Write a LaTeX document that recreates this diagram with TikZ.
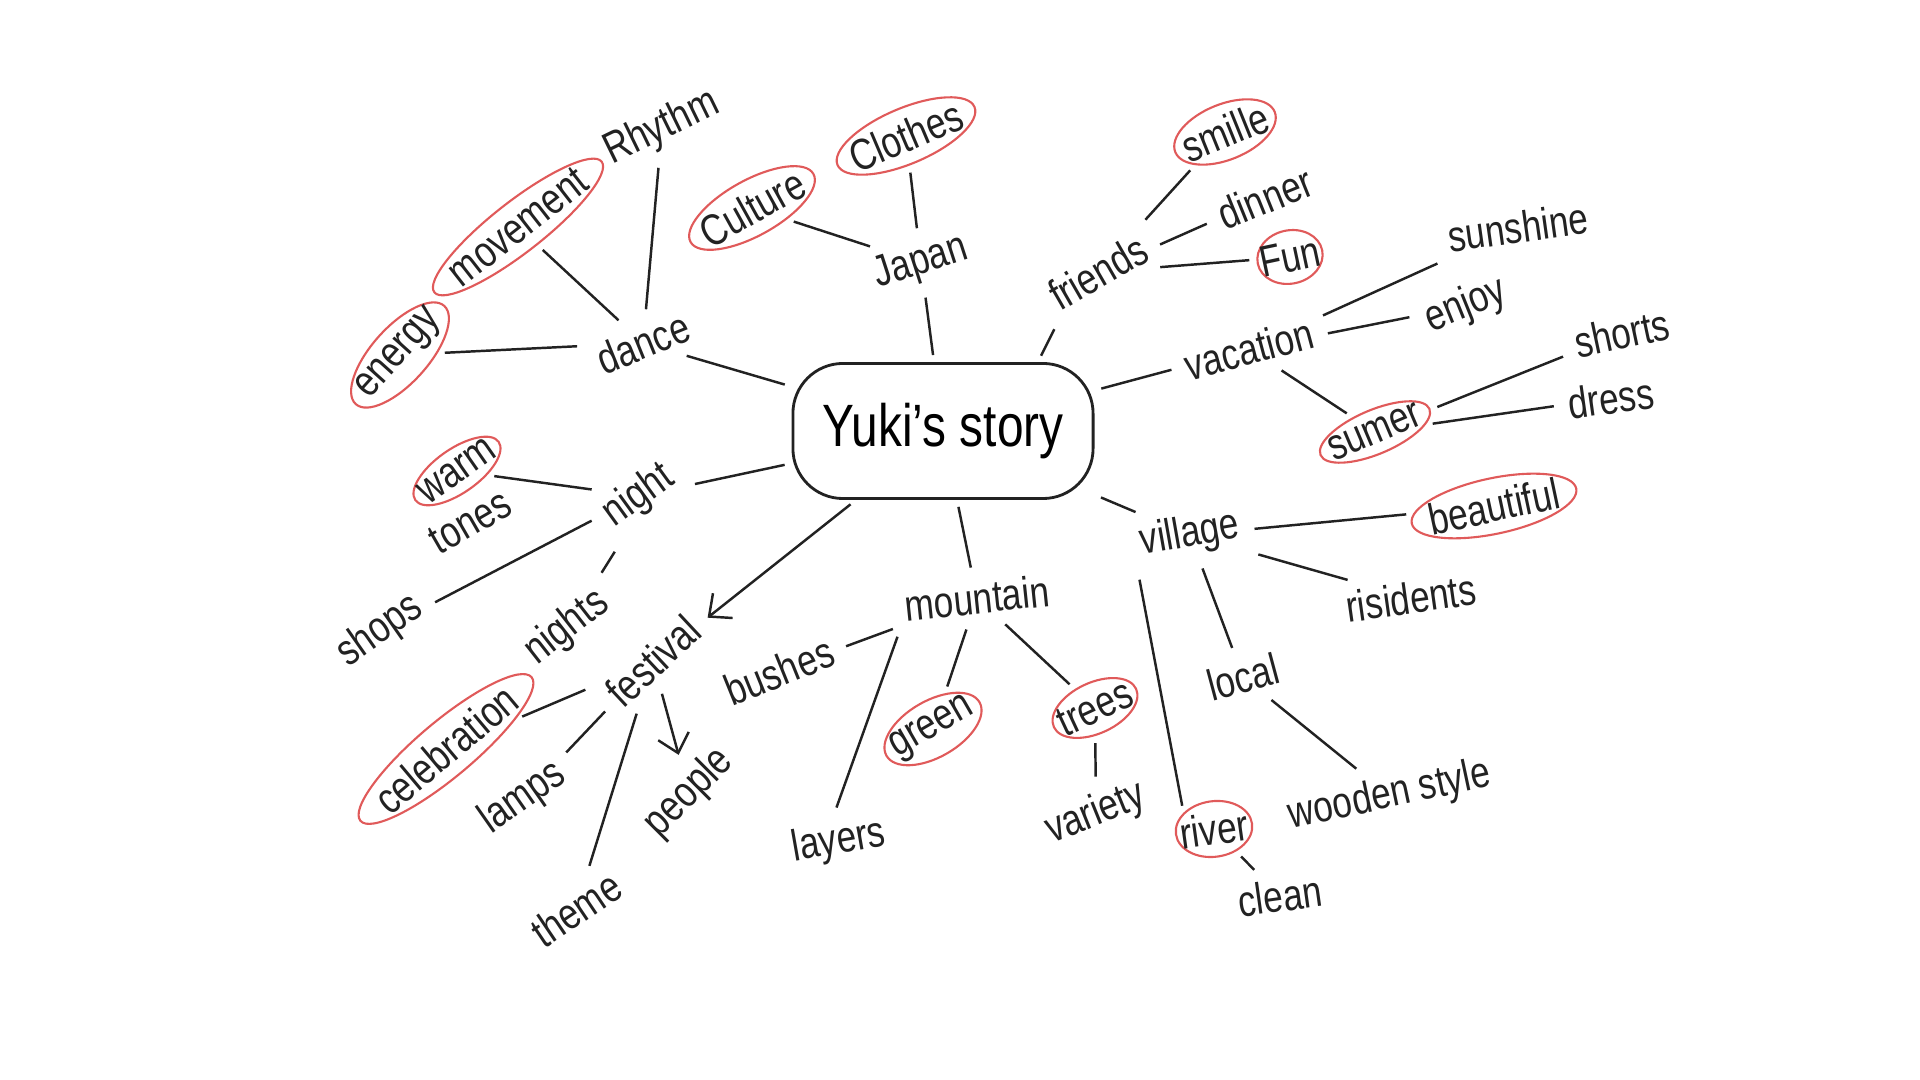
\documentclass[tikz,border=0pt]{standalone}
\usepackage{fontspec}
\setmainfont{Liberation Sans}[FakeStretch=0.8]
\usepackage{xcolor}
\definecolor{ink}{HTML}{222222}
\definecolor{circlered}{HTML}{E05A5A}
\usetikzlibrary{shapes.geometric, arrows.meta, calc}

\begin{document}
\begin{tikzpicture}[
        x=0.01cm, y=-0.01cm,
        font=\fontsize{12.5}{14}\selectfont,
        word/.style={
            text=ink,
            inner sep=2pt
        },
        circled/.style={
            word,
            ellipse,
            draw=circlered,
            line width=0.6pt,
            inner xsep=-2pt,
            inner ysep=1pt
        },
        story_box/.style={
            rectangle,
            rounded corners=0.5cm,
            draw=ink,
            line width=0.8pt,
            minimum width=3cm,
            minimum height=1.35cm,
            font=\fontsize{17}{20}\selectfont
        },
        link/.style={
            draw=ink,
            line width=0.7pt,
            shorten <=2pt,
            shorten >=2pt
        },
        arrow_link/.style={
            link,
            -{Straight Barb[length=5pt, width=9pt]}
        }
    ]

    \useasboundingbox (0,0) rectangle (1920,1080);

    % Centre
    \node[story_box] (story) at (943,431) {Yuki's story};

    % Dance branch
    \node[word, rotate=22] (dance) at (643,343) {dance};
    \node[word, rotate=26] (rhythm) at (662,128) {Rhythm};
    \node[circled, rotate=38] (movement) at (518,227) {movement};
    \node[circled, rotate=48] (energy) at (400,355) {energy};

    % Japan branch
    \node[word, rotate=18] (japan) at (921,263) {Japan};
    \node[circled, rotate=29] (culture) at (752,208) {Culture};
    \node[circled, rotate=23] (clothes) at (906,136) {Clothes};

    % Friends branch
    \node[word, rotate=30] (friends) at (1098,272) {friends};
    \node[circled, rotate=22] (smille) at (1225,132) {smille};
    \node[word, rotate=22] (dinner) at (1265,198) {dinner};
    \node[circled, rotate=12] (fun) at (1290,257) {Fun};

    % Vacation branch
    \node[word, rotate=15] (vacation) at (1249,349) {vacation};
    \node[word, rotate=8] (sunshine) at (1518,227) {sunshine};
    \node[word, rotate=22] (enjoy) at (1466,306) {enjoy};
    \node[circled, rotate=23] (sumer) at (1375,432) {sumer};
    \node[word, rotate=12] (shorts) at (1622,333) {shorts};
    \node[word, rotate=8] (dress) at (1611,398) {dress};

    % Village branch
    \node[word, rotate=10] (village) at (1190,535) {village};
    \node[circled, rotate=12] (beautiful) at (1494,506) {beautiful};
    \node[word, rotate=8] (risidents) at (1411,598) {risidents};
    \node[word, rotate=15] (local) at (1243,677) {local};
    \node[word, rotate=12] (wooden) at (1390,796) {wooden style};
    \node[circled, rotate=8] (river) at (1214,829) {river};
    \node[word, rotate=8] (clean) at (1280,896) {clean};

    % Mountain branch
    \node[word, rotate=6] (mountain) at (977,598) {mountain};
    \node[word, rotate=22] (bushes) at (779,671) {bushes};
    \node[circled, rotate=30] (green) at (933,729) {green};
    \node[circled, rotate=25] (trees) at (1095,708) {trees};
    \node[word, rotate=10] (layers) at (839,842) {layers};
    \node[word, rotate=22] (variety) at (1096,814) {variety};

    % Night branch
    \node[word, rotate=36] (night) at (639,496) {night};
    \node[circled, rotate=35] (warm) at (457,471) {warm};
    \node[word, rotate=30] (tones) at (470,522) {tones};
    \node[word, rotate=35] (shops) at (380,631) {shops};
    \node[word, rotate=38] (nights) at (567,628) {nights};

    % Festival branch
    \node[word, rotate=43] (festival) at (653,661) {festival};
    \node[circled, rotate=40] (celebration) at (446,749) {celebration};
    \node[word, rotate=35] (lamps) at (523,798) {lamps};
    \node[word, rotate=45] (people) at (689,793) {people};
    \node[word, rotate=34] (theme) at (576,909) {theme};

    % Links from the centre
    \draw[link] (story) -- (dance);
    \draw[link] (story) -- (japan);
    \draw[link] (story.36) -- (friends.south west);
    \draw[link] (story) -- (vacation);
    \draw[link] (story) -- (village);
    \draw[link] (story) -- (mountain);
    \draw[link] (story) -- (night);
    \draw[arrow_link] (story) -- (festival);

    % Second level links
    \draw[link] (dance) -- (rhythm);
    \draw[link] (dance) -- (movement);
    \draw[link] (dance) -- (energy);
    \draw[link] (japan) -- (culture);
    \draw[link] (japan) -- (clothes);
    \draw[link] (friends) -- (smille);
    \draw[link] (friends) -- (dinner);
    \draw[link] (friends) -- (fun);
    \draw[link] (vacation) -- (sunshine);
    \draw[link] (vacation) -- (enjoy);
    \draw[link] (vacation) -- (sumer);
    \draw[link] (sumer) -- (shorts);
    \draw[link] (sumer) -- (dress);
    \draw[link] (village) -- (beautiful);
    \draw[link] (village) -- (risidents);
    \draw[link] (village) -- (local);
    \draw[link] (village.south west) -- (river.north west);
    \draw[link] (local) -- (wooden);
    \draw[link] (river) -- (clean);
    \draw[link] (mountain) -- (bushes);
    \draw[link] (mountain) -- (green);
    \draw[link] (mountain) -- (trees);
    \draw[link] (mountain.south west) -- (layers.north);
    \draw[link] (trees) -- (variety);
    \draw[link] (night) -- (warm);
    \draw[link] (night) -- (shops);
    \draw[link] (night.south west) -- (nights);
    \draw[link] (festival) -- (celebration);
    \draw[link] (festival) -- (lamps);
    \draw[link] (festival) -- (theme);
    \draw[arrow_link] (festival) -- (people);

\end{tikzpicture}
\end{document}
